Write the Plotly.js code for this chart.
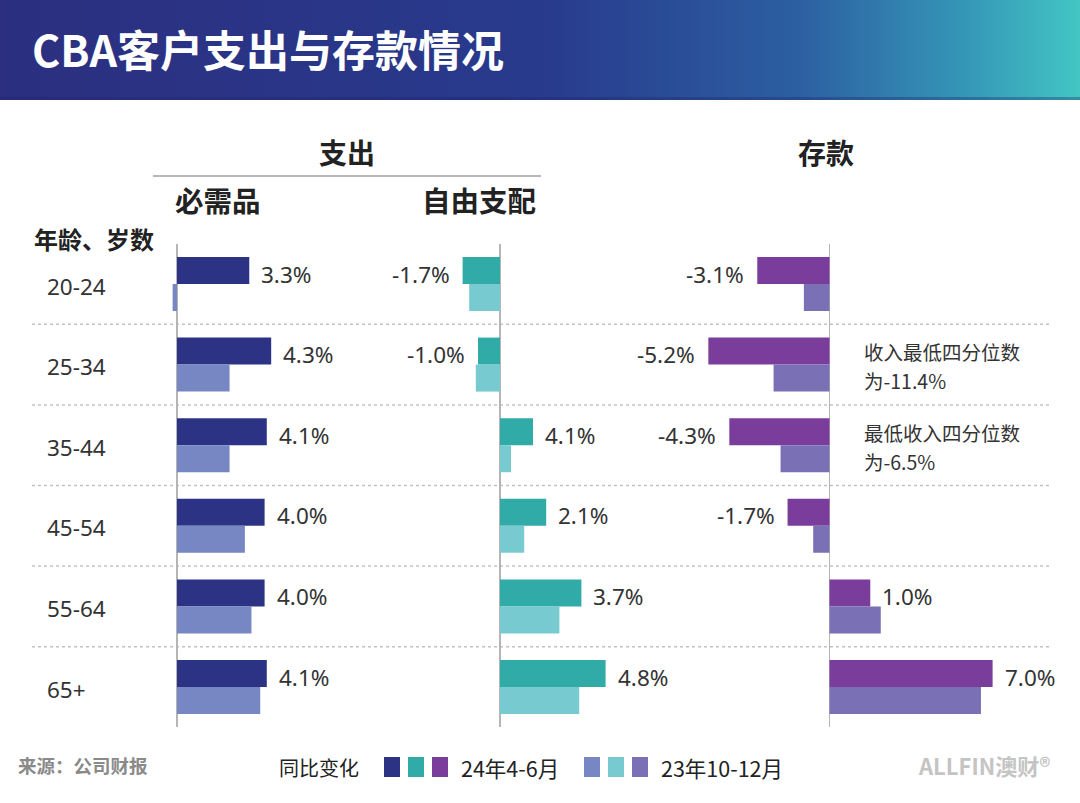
<!DOCTYPE html>
<html>
<head>
<meta charset="utf-8">
<script src="https://cdn.plot.ly/plotly-3.0.1.min.js"></script>
<style>html,body{margin:0;padding:0;background:#fff;}#chart{width:1080px;height:803px;}</style>
</head>
<body>
<div id="chart"></div>
<script>
// ---------- data ----------
const ages = ['20-24', '25-34', '35-44', '45-54', '55-64', '65+'];

const essentialCur  = [3.3, 4.3, 4.1, 4.0, 4.0, 4.1];
const essentialPrev = [-0.2, 2.4, 2.4, 3.1, 3.4, 3.8];
const essentialLabels = ['3.3%', '4.3%', '4.1%', '4.0%', '4.0%', '4.1%'];

const discCur  = [-1.7, -1.0, 1.5, 2.1, 3.7, 4.8];
const discPrev = [-1.4, -1.1, 0.5, 1.1, 2.7, 3.6];
const discLabels = ['-1.7%', '-1.0%', '4.1%', '2.1%', '3.7%', '4.8%'];

const savCur  = [-3.1, -5.2, -4.3, -1.8, 1.75, 7.0];
const savPrev = [-1.1, -2.4, -2.1, -0.7, 2.2, 6.5];
const savLabels = ['-3.1%', '-5.2%', '-4.3%', '-1.7%', '1.0%', '7.0%'];

const savNotes = [
  {age: '25-34', lines: ['收入最低四分位数', '为-11.4%']},
  {age: '35-44', lines: ['最低收入四分位数', '为-6.5%']}
];

const curColors  = ['#2c3385', '#30aba8', '#7a3d9c'];
const prevColors = ['#7687c3', '#77cbd0', '#7a70b6'];

const titleText = 'CBA客户支出与存款情况';
const groupHeaders = {spend: '支出', essential: '必需品', disc: '自由支配', savings: '存款', age: '年龄、岁数'};
const legendTitle = '同比变化';
const legendCur = '24年4-6月';
const legendPrev = '23年10-12月';
const sourceText = '来源：公司财报';
const brandText = 'ALLFIN澳财®';

// ---------- helpers ----------
const W = 1080, H = 803;
const px = x => x / W;
const py = y => 1 - y / H;
const FONT = '"Noto Sans", "Noto Sans CJK SC", sans-serif';
const CJK = '"Noto Sans CJK SC", "Noto Sans", sans-serif';

const panels = [
  {xa: 'x',  cur: essentialCur, prev: essentialPrev, labels: essentialLabels, ci: 0},
  {xa: 'x2', cur: discCur,      prev: discPrev,      labels: discLabels,      ci: 1},
  {xa: 'x3', cur: savCur,       prev: savPrev,       labels: savLabels,       ci: 2}
];

const traces = [];
const annotations = [];
panels.forEach(p => {
  traces.push({
    type: 'bar', orientation: 'h', x: p.cur, y: ages, xaxis: p.xa, yaxis: 'y',
    marker: {color: curColors[p.ci]}, hoverinfo: 'x+y', showlegend: false
  });
  traces.push({
    type: 'bar', orientation: 'h', x: p.prev, y: ages, xaxis: p.xa, yaxis: 'y',
    marker: {color: prevColors[p.ci]}, hoverinfo: 'x+y', showlegend: false
  });
  p.cur.forEach((v, i) => {
    annotations.push({
      xref: p.xa, yref: 'y', x: v, y: ages[i], text: p.labels[i],
      showarrow: false, xanchor: v >= 0 ? 'left' : 'right', yanchor: 'middle',
      xshift: v >= 0 ? 10 : -11, yshift: 10,
      font: {family: FONT, size: 22.5, color: '#333'}
    });
  });
});

// savings notes (one annotation per line)
savNotes.forEach(n => {
  n.lines.forEach((t, k) => {
    annotations.push({
      xref: 'paper', yref: 'y', x: px(862), y: n.age, text: t,
      showarrow: false, xanchor: 'left', yanchor: 'middle', align: 'left',
      yshift: k === 0 ? 13 : -16,
      font: {family: CJK, size: 19.5, color: '#333'}
    });
  });
});

// age labels
ages.forEach(a => {
  annotations.push({
    xref: 'paper', yref: 'y', x: px(45), y: a, text: a, showarrow: false,
    xanchor: 'left', yanchor: 'middle', yshift: -2,
    font: {family: FONT, size: 22.5, color: '#333'}
  });
});

// headers
const hdr = (x, y, text, size, anchor) => annotations.push({
  xref: 'paper', yref: 'paper', x: px(x), y: py(y), text: '<b>' + text + '</b>',
  showarrow: false, xanchor: anchor || 'center', yanchor: 'middle',
  font: {family: CJK, size: size, color: '#222'}
});
hdr(347, 152, groupHeaders.spend, 28);
hdr(218, 199, groupHeaders.essential, 28.5);
hdr(479, 199, groupHeaders.disc, 28.5);
hdr(826, 152, groupHeaders.savings, 28);
hdr(32, 238, groupHeaders.age, 24, 'left');

// footer
annotations.push({xref: 'paper', yref: 'paper', x: px(16), y: py(765), text: '<b>' + sourceText + '</b>',
  showarrow: false, xanchor: 'left', yanchor: 'middle', font: {family: CJK, size: 18.5, color: '#8a8a8a'}});
annotations.push({xref: 'paper', yref: 'paper', x: px(277), y: py(767), text: legendTitle,
  showarrow: false, xanchor: 'left', yanchor: 'middle', font: {family: CJK, size: 20, color: '#222'}});
annotations.push({xref: 'paper', yref: 'paper', x: px(459), y: py(767), text: legendCur,
  showarrow: false, xanchor: 'left', yanchor: 'middle', font: {family: CJK, size: 21.5, color: '#222'}});
annotations.push({xref: 'paper', yref: 'paper', x: px(659), y: py(767), text: legendPrev,
  showarrow: false, xanchor: 'left', yanchor: 'middle', font: {family: CJK, size: 21.5, color: '#222'}});
annotations.push({xref: 'paper', yref: 'paper', x: px(1052), y: py(765), text: '<b>' + brandText + '</b>',
  showarrow: false, xanchor: 'right', yanchor: 'middle', font: {family: CJK, size: 22, color: '#c4c4c4'}});

// shapes
const shapes = [];
for (let i = 0; i < ages.length - 1; i++) {
  shapes.push({type: 'line', xref: 'paper', yref: 'y', x0: px(32), x1: px(1052), y0: i + 0.5, y1: i + 0.5,
    line: {color: '#c2c2c2', width: 1.5, dash: 'dot'}, layer: 'below'});
}
shapes.push({type: 'line', xref: 'paper', yref: 'paper', x0: px(153), x1: px(541), y0: py(176), y1: py(176),
  line: {color: '#a0a0a0', width: 1.5}});
const legendX0 = [384, 408, 432], legendX1 = [584, 608, 632];
curColors.forEach((c, i) => shapes.push({type: 'rect', xref: 'paper', yref: 'paper',
  x0: px(legendX0[i]), x1: px(legendX0[i] + 16), y0: py(777), y1: py(757), fillcolor: c, line: {width: 0}}));
prevColors.forEach((c, i) => shapes.push({type: 'rect', xref: 'paper', yref: 'paper',
  x0: px(legendX1[i]), x1: px(legendX1[i] + 16), y0: py(777), y1: py(757), fillcolor: c, line: {width: 0}}));

// banner gradient
const svg = "<svg xmlns='http://www.w3.org/2000/svg' width='1080' height='100' viewBox='0 0 1080 100' preserveAspectRatio='none'>" +
  "<defs><linearGradient id='g' x1='0' x2='1' y1='0' y2='0'>" +
  "<stop offset='0' stop-color='#2c2f80'/><stop offset='0.5' stop-color='#283a8c'/>" +
  "<stop offset='0.74' stop-color='#2c5fa2'/><stop offset='0.9' stop-color='#3599b8'/>" +
  "<stop offset='1' stop-color='#43c6c4'/></linearGradient></defs>" +
  "<rect width='1080' height='100' fill='url(#g)'/>" +
  "<rect y='97' width='1080' height='3' fill='#1e2566' opacity='0.35'/></svg>";

const xCommon = {showgrid: false, showticklabels: false, ticks: '', zeroline: true,
  zerolinecolor: '#b5b5b5', zerolinewidth: 1.5, fixedrange: true};

const layout = {
  width: W, height: H,
  margin: {l: 0, r: 0, t: 0, b: 0},
  paper_bgcolor: '#ffffff', plot_bgcolor: 'rgba(0,0,0,0)',
  barmode: 'group', bargap: 0.33, bargroupgap: 0,
  showlegend: false,
  title: {text: '<b>' + titleText + '</b>', x: px(32), xanchor: 'left', y: py(52), yanchor: 'middle',
    font: {family: CJK, size: 43, color: '#ffffff'}},
  xaxis:  Object.assign({}, xCommon, {domain: [px(160), px(390)], range: [-17 / 21.9, 213 / 21.9], anchor: 'y'}),
  xaxis2: Object.assign({}, xCommon, {domain: [px(390), px(680)], range: [-110 / 22.0, 180 / 22.0], anchor: 'y'}),
  xaxis3: Object.assign({}, xCommon, {domain: [px(680), px(1075)], range: [-149.5 / 23.3, 245.5 / 23.3], anchor: 'y'}),
  yaxis: {type: 'category', categoryarray: ages, range: [5.5, -0.5], domain: [py(727.3), py(243.7)],
    showgrid: false, showticklabels: false, ticks: '', zeroline: false, fixedrange: true},
  annotations: annotations,
  shapes: shapes,
  images: [{source: 'data:image/svg+xml;charset=utf-8,' + encodeURIComponent(svg), xref: 'paper', yref: 'paper',
    x: 0, y: 1, sizex: 1, sizey: 100 / H, xanchor: 'left', yanchor: 'top', sizing: 'stretch', layer: 'below'}]
};

Plotly.newPlot('chart', traces, layout, {displayModeBar: false, staticPlot: true});
</script>
</body>
</html>
